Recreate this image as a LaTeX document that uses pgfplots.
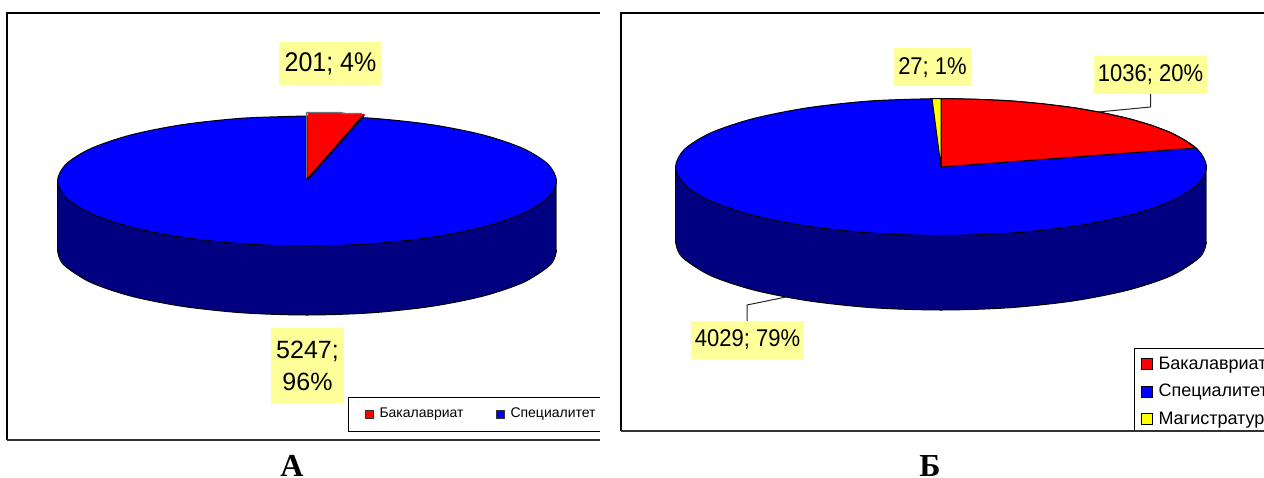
\documentclass[border=0pt]{standalone}
\usepackage{fontspec}
\usepackage{graphicx}
\usepackage{pgfplots}
\pgfplotsset{compat=1.18}
\setmainfont{Liberation Sans}
\newfontfamily\capfont{Liberation Serif}
\definecolor{lblyellow}{HTML}{FFFF99}
\definecolor{pieblue}{HTML}{0000FF}
\definecolor{piedark}{HTML}{000080}
\definecolor{piered}{HTML}{FF0000}
\definecolor{pieyellow}{HTML}{FFFF00}
% 1 unit of the axis = 1 pixel of the reference = 0.5pt
\newcommand{\lblA}[1]{\fontsize{12.5}{19}\selectfont\scalebox{1}[1.08]{#1}}
\newcommand{\lblB}[1]{\fontsize{11}{16}\selectfont\scalebox{1}[1.1]{#1}}
\begin{document}
\begin{tikzpicture}
\path[use as bounding box] (0,0) rectangle (632pt,238.5pt);
\begin{axis}[
    scale only axis,
    width=632pt, height=238.5pt,
    xmin=0, xmax=1264, ymin=0, ymax=477,
    y dir=reverse,
    hide axis,
    line width=0.5pt,
]
% frames, open on the right
\addplot[black, line width=0.6pt] coordinates {(600,13) (7,13) (7,440)};
\addplot[black!80, line width=0.9pt] coordinates {(7,440) (600,440)};
\addplot[black, line width=0.6pt] coordinates {(1264,13) (621,13) (621,431)};
\addplot[black!80, line width=0.9pt] coordinates {(621,431) (1264,431)};

% chart A: side
\addplot[draw=none, fill=piedark] coordinates {(57.5,181) (556.5,181) (556.5,250) (57.5,250)} -- cycle;
\addplot[smooth, fill=piedark, draw=none] coordinates {
    (307,185) (242.4,187.2) (182.2,193.7) (130.6,204) (90.9,217.5) (66,233.2) (57.5,250)
    (66,266.8) (90.9,282.5) (130.6,296) (182.2,306.3) (242.4,312.8) (307,315)
    (371.6,312.8) (431.8,306.3) (483.4,296) (523.1,282.5) (548,266.8) (556.5,250)
    (548,233.2) (523.1,217.5) (483.4,204) (431.8,193.7) (371.6,187.2) (307,185)} -- cycle;
\addplot[smooth, black] coordinates {
    (57.5,250) (59.6,258.5) (66,266.8) (90.9,282.5) (130.6,296) (182.2,306.3) (242.4,312.8) (307,315)
    (371.6,312.8) (431.8,306.3) (483.4,296) (523.1,282.5) (548,266.8) (554.4,258.5) (556.5,250)};
\addplot[black] coordinates {(57.5,181) (57.5,250)};
\addplot[black!60] coordinates {(556.5,181) (556.5,250)};
% chart A: top
\addplot[smooth, fill=pieblue, draw=black] coordinates {
    (307,116) (242.4,118.2) (182.2,124.7) (130.6,135) (90.9,148.5) (66,164.2) (57.5,181)
    (66,197.8) (90.9,213.5) (130.6,227) (182.2,237.3) (242.4,243.8) (307,246)
    (371.6,243.8) (431.8,237.3) (483.4,227) (523.1,213.5) (548,197.8) (556.5,181)
    (548,164.2) (523.1,148.5) (483.4,135) (431.8,124.7) (371.6,118.2) (307,116)} -- cycle;
% chart A: Бакалавриат 201
\addplot[draw=none, fill=piered] coordinates {(307.5,180) (307.5,112.5) (340,112.5) (345,114) (365,114)} -- cycle;
\addplot[black!55, line width=0.7pt] coordinates {(306.5,178) (306.5,112.5) (340,112.5) (345,113.5) (362,113.5)};
\addplot[black, line width=1pt] coordinates {(364,115) (307,180)};
\addplot[black, line width=0.4pt] coordinates {(305.5,117) (305.5,180)};

% chart B: side
\addplot[draw=none, fill=piedark] coordinates {(675.5,167) (1206.5,167) (1206.5,241.5) (675.5,241.5)} -- cycle;
\addplot[smooth, fill=piedark, draw=none] coordinates {
    (941,173) (872.3,175.3) (808.2,182.2) (753.3,193.1) (711.1,207.2) (684.5,223.8) (675.5,241.5)
    (684.5,259.2) (711.1,275.8) (753.3,289.9) (808.2,300.8) (872.3,307.7) (941,310)
    (1009.7,307.7) (1073.8,300.8) (1128.7,289.9) (1170.9,275.8) (1197.5,259.2) (1206.5,241.5)
    (1197.5,223.8) (1170.9,207.2) (1128.7,193.1) (1073.8,182.2) (1009.7,175.3) (941,173)} -- cycle;
\addplot[smooth, black] coordinates {
    (675.5,241.5) (677.8,250.4) (684.5,259.2) (711.1,275.8) (753.3,289.9) (808.2,300.8) (872.3,307.7) (941,310)
    (1009.7,307.7) (1073.8,300.8) (1128.7,289.9) (1170.9,275.8) (1197.5,259.2) (1204.2,250.4) (1206.5,241.5)};
\addplot[black] coordinates {(675.5,167) (675.5,241.5)};
\addplot[black!60] coordinates {(1206.5,167) (1206.5,241.5)};
% chart B: top
\addplot[smooth, fill=pieblue, draw=black] coordinates {
    (941,98.5) (872.3,100.8) (808.2,107.7) (753.3,118.6) (711.1,132.7) (684.5,149.3) (675.5,167)
    (684.5,184.7) (711.1,201.3) (753.3,215.4) (808.2,226.3) (872.3,233.2) (941,235.5)
    (1009.7,233.2) (1073.8,226.3) (1128.7,215.4) (1170.9,201.3) (1197.5,184.7) (1206.5,167)
    (1197.5,149.3) (1170.9,132.7) (1128.7,118.6) (1073.8,107.7) (1009.7,100.8) (941,98.5)} -- cycle;
% chart B: Бакалавриат 1036, Магистратура 27
\addplot[fill=piered, draw=black] coordinates {
    (941,167) (941,98.5) (975,99.2) (1009.7,100.8) (1042,103.7) (1073.8,107.7) (1102,112.6) (1128.7,118.6)
    (1151,125) (1170.9,132.7) (1186,141) (1196,148)} -- cycle;
\addplot[fill=pieyellow, draw=black] coordinates {(941,167) (941,98.5) (932,98.5)} -- cycle;

% leader lines
\addplot[black!85] coordinates {(1150.5,94) (1150.5,107) (1098,112)};
\addplot[black!85] coordinates {(747,321) (747,305) (786,297)};

% data labels
\fill[lblyellow] (279,42) rectangle (381,85);
\node at (330.5,63.5) {\lblA{201; 4\%}};
\fill[lblyellow] (271,328) rectangle (344,403);
\node[align=center, font=\fontsize{12.5}{16}\selectfont] at (307.5,365.5) {5247;\\96\%};
\fill[lblyellow] (894,48) rectangle (971,86);
\node at (932.5,67.5) {\lblB{27; 1\%}};
\fill[lblyellow] (1094,56) rectangle (1207,94);
\node at (1150.5,75) {\lblB{1036; 20\%}};
\fill[lblyellow] (691,321) rectangle (804,359);
\node at (747.5,340) {\lblB{4029; 79\%}};

% legend A
\addplot[black] coordinates {(600,397) (348,397) (348,431) (600,431)};
\addplot[only marks, mark=square*, mark size=2.1pt, mark options={fill=piered, draw=black!80, line width=0.3pt}] coordinates {(369.5,414)};
\addplot[only marks, mark=square*, mark size=2.1pt, mark options={fill=pieblue, draw=black!80, line width=0.3pt}] coordinates {(500.5,414)};
\node[anchor=west, inner sep=0pt, font=\fontsize{7}{8}\selectfont] at (379,414.5) {Бакалавриат};
\node[anchor=west, inner sep=0pt, font=\fontsize{7}{8}\selectfont] at (510,414.5) {Специалитет};

% legend B
\addplot[black] coordinates {(1264,348) (1134,348) (1134,431)};
\addplot[only marks, mark=square*, mark size=2.8pt, mark options={fill=piered, draw=black, line width=0.4pt}] coordinates {(1146.5,364)};
\addplot[only marks, mark=square*, mark size=2.8pt, mark options={fill=pieblue, draw=black, line width=0.4pt}] coordinates {(1146.5,391.5)};
\addplot[only marks, mark=square*, mark size=2.8pt, mark options={fill=pieyellow, draw=black, line width=0.4pt}] coordinates {(1146.5,419)};
\node[anchor=west, inner sep=0pt, font=\fontsize{9}{10}\selectfont] at (1158,365) {Бакалавриат};
\node[anchor=west, inner sep=0pt, font=\fontsize{9}{10}\selectfont] at (1158,392) {Специалитет};
\node[anchor=west, inner sep=0pt, font=\fontsize{9}{10}\selectfont] at (1158,420) {Магистратура};

% captions
\node[anchor=base, inner sep=0pt, font=\capfont\bfseries\fontsize{16}{16}\selectfont] at (292,476) {А};
\node[anchor=base, inner sep=0pt, font=\capfont\bfseries\fontsize{16}{16}\selectfont] at (930,476) {Б};
\end{axis}
\end{tikzpicture}
\end{document}
